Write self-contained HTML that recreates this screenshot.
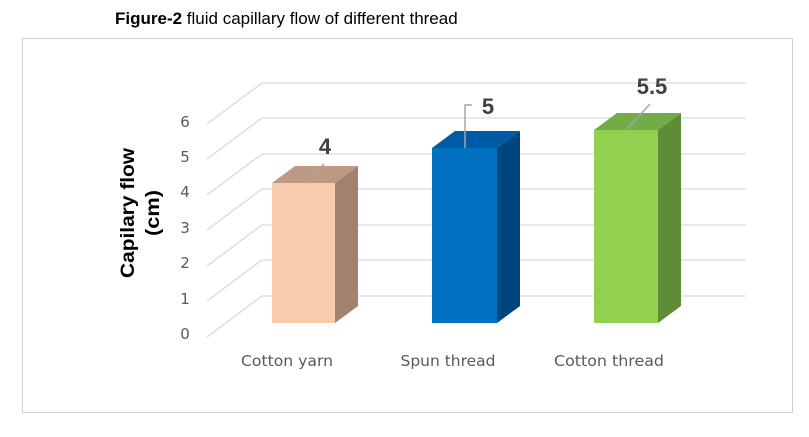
<!DOCTYPE html>
<html><head><style>
body{margin:0;background:#fff;width:809px;height:432px;overflow:hidden}
</style></head><body>
<svg width="809" height="432" xmlns="http://www.w3.org/2000/svg" font-family="Liberation Sans, sans-serif">
<text x="115" y="24" font-size="17" fill="#000"><tspan font-weight="bold">Figure-2</tspan> fluid capillary flow of different thread</text>
<rect x="22.5" y="38.5" width="770" height="374" fill="none" stroke="#d0d0d0"/>
<g stroke="#d9d9d9" stroke-width="1.3" fill="none">
<polyline points="207,337 262,296 746,296"/>
<polyline points="207,301 262,260 746,260"/>
<polyline points="207,266 262,225 746,225"/>
<polyline points="207,230 262,189 746,189"/>
<polyline points="207,195 262,154 746,154"/>
<polyline points="207,159 262,118 746,118"/>
<polyline points="207,124 262,83 746,83"/>
</g>
<g font-size="15" fill="#595959" text-anchor="middle" font-family="DejaVu Sans, sans-serif">
<text x="185" y="339">0</text><text x="185" y="304">1</text><text x="185" y="268">2</text>
<text x="185" y="233">3</text><text x="185" y="197">4</text><text x="185" y="162">5</text><text x="185" y="127">6</text>
</g>
<text transform="translate(134,213) rotate(-90)" font-size="19" font-weight="bold" text-anchor="middle" textLength="130" lengthAdjust="spacingAndGlyphs">Capilary flow</text>
<text transform="translate(159,213) rotate(-90)" font-size="19" font-weight="bold" text-anchor="middle" textLength="46" lengthAdjust="spacingAndGlyphs">(cm)</text>
<polygon points="272,183 295,166 358,166 335,183" fill="#be9a84"/>
<polygon points="335,183 358,166 358,306 335,323" fill="#a2826c"/>
<rect x="272" y="183" width="63" height="140" fill="#f8cbad"/>
<polygon points="432,148 455,131 520,131 497,148" fill="#005aa5"/>
<polygon points="497,148 520,131 520,306 497,323" fill="#00467e"/>
<rect x="432" y="148" width="65" height="175" fill="#0070c0"/>
<polygon points="594,130 617,113 681,113 658,130" fill="#70ad47"/>
<polygon points="658,130 681,113 681,306 658,323" fill="#5f8c37"/>
<rect x="594" y="130" width="64" height="193" fill="#92d050"/>
<g stroke="#a6a6a6" stroke-width="1.5" fill="none">
<line x1="305" y1="183" x2="324" y2="164"/>
<polyline points="465,148 465,105 472,105"/>
<line x1="627" y1="129" x2="650" y2="104"/>
</g>
<g font-size="22" font-weight="bold" fill="#404040" text-anchor="middle">
<text x="325" y="154">4</text><text x="488" y="114">5</text><text x="652" y="94">5.5</text>
</g>
<g font-size="15" fill="#595959" text-anchor="middle" font-family="DejaVu Sans, sans-serif">
<text x="287" y="366" textLength="92" lengthAdjust="spacingAndGlyphs">Cotton yarn</text>
<text x="448" y="366" textLength="95" lengthAdjust="spacingAndGlyphs">Spun thread</text>
<text x="609" y="366" textLength="110" lengthAdjust="spacingAndGlyphs">Cotton thread</text>
</g>
</svg>
</body></html>
